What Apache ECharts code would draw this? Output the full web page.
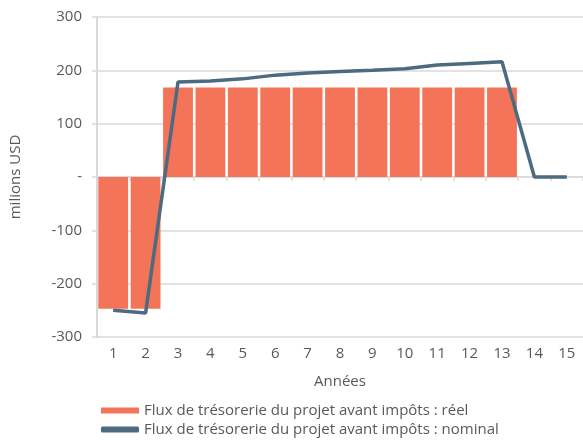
<!DOCTYPE html>
<html>
<head>
<meta charset="utf-8">
<script src="https://cdn.jsdelivr.net/npm/echarts@6/dist/echarts.min.js"></script>
<style>
  html, body { margin: 0; padding: 0; background: #fff; }
  #chart { width: 583px; height: 446px; }
</style>
</head>
<body>
<div id="chart"></div>
<script>
// Years of the project
const years = ['1','2','3','4','5','6','7','8','9','10','11','12','13','14','15'];
// Pre-tax project cash flow, real terms (millions USD)
const realFlows = [-247, -247, 168, 168, 168, 168, 168, 168, 168, 168, 168, 168, 168, 0, 0];
// Pre-tax project cash flow, nominal terms (millions USD)
const nominalFlows = [-250, -255, 178, 180, 184, 191, 195, 198, 200, 203, 210, 213, 216, 0, 0];

const realName = 'Flux de trésorerie du projet avant impôts : réel';
const nominalName = 'Flux de trésorerie du projet avant impôts : nominal';

const gridColor = '#d9d9d9';
const textColor = '#595959';
const font = '"Open Sans", Lato, sans-serif';

const chart = echarts.init(document.getElementById('chart'));
chart.setOption({
  animation: false,
  textStyle: { fontFamily: font },
  grid: { left: 97, right: -3, top: 17, bottom: 109, containLabel: false },
  legend: {
    orient: 'vertical',
    left: 96,
    bottom: 4,
    height: 60,
    itemWidth: 38,
    itemHeight: 6,
    itemGap: 4,
    textStyle: { fontFamily: font, fontSize: 15, color: textColor },
    data: [
      { name: realName, icon: 'rect' },
      { name: nominalName, icon: 'roundRect' }
    ]
  },
  xAxis: [
    {
      type: 'category',
      data: years,
      position: 'bottom',
      axisLine: { show: false, onZero: false },
      axisTick: { show: false },
      axisLabel: { color: textColor, fontSize: 15, margin: 9 },
      name: 'Années',
      nameLocation: 'middle',
      nameGap: 37,
      nameTextStyle: { color: textColor, fontSize: 15 }
    },
    {
      type: 'category',
      data: years,
      position: 'bottom',
      axisLine: { show: true, onZero: true, lineStyle: { color: gridColor, width: 1.5 } },
      axisTick: { show: true, length: 4, lineStyle: { color: gridColor, width: 1.5 } },
      axisLabel: { show: false }
    }
  ],
  yAxis: {
    type: 'value',
    min: -300,
    max: 300,
    interval: 100,
    axisLine: { show: true, lineStyle: { color: gridColor, width: 2 } },
    axisTick: { show: true, length: 5, lineStyle: { color: gridColor, width: 1.5 } },
    splitLine: { show: true, lineStyle: { color: gridColor, width: 1.5 } },
    axisLabel: {
      color: textColor,
      fontSize: 15,
      margin: 15,
      formatter: v => (v === 0 ? '-' : String(v))
    },
    name: 'milions USD',
    nameLocation: 'middle',
    nameGap: 74,
    nameRotate: 90,
    nameTextStyle: { color: textColor, fontSize: 15 }
  },
  series: [
    {
      name: realName,
      type: 'bar',
      data: realFlows,
      barCategoryGap: '8%',
      itemStyle: { color: '#f37458' },
      z: 2
    },
    {
      name: nominalName,
      type: 'line',
      data: nominalFlows,
      symbol: 'none',
      lineStyle: { color: '#4c6a80', width: 3.5 },
      itemStyle: { color: '#4c6a80' },
      z: 3
    }
  ]
});
</script>
</body>
</html>
